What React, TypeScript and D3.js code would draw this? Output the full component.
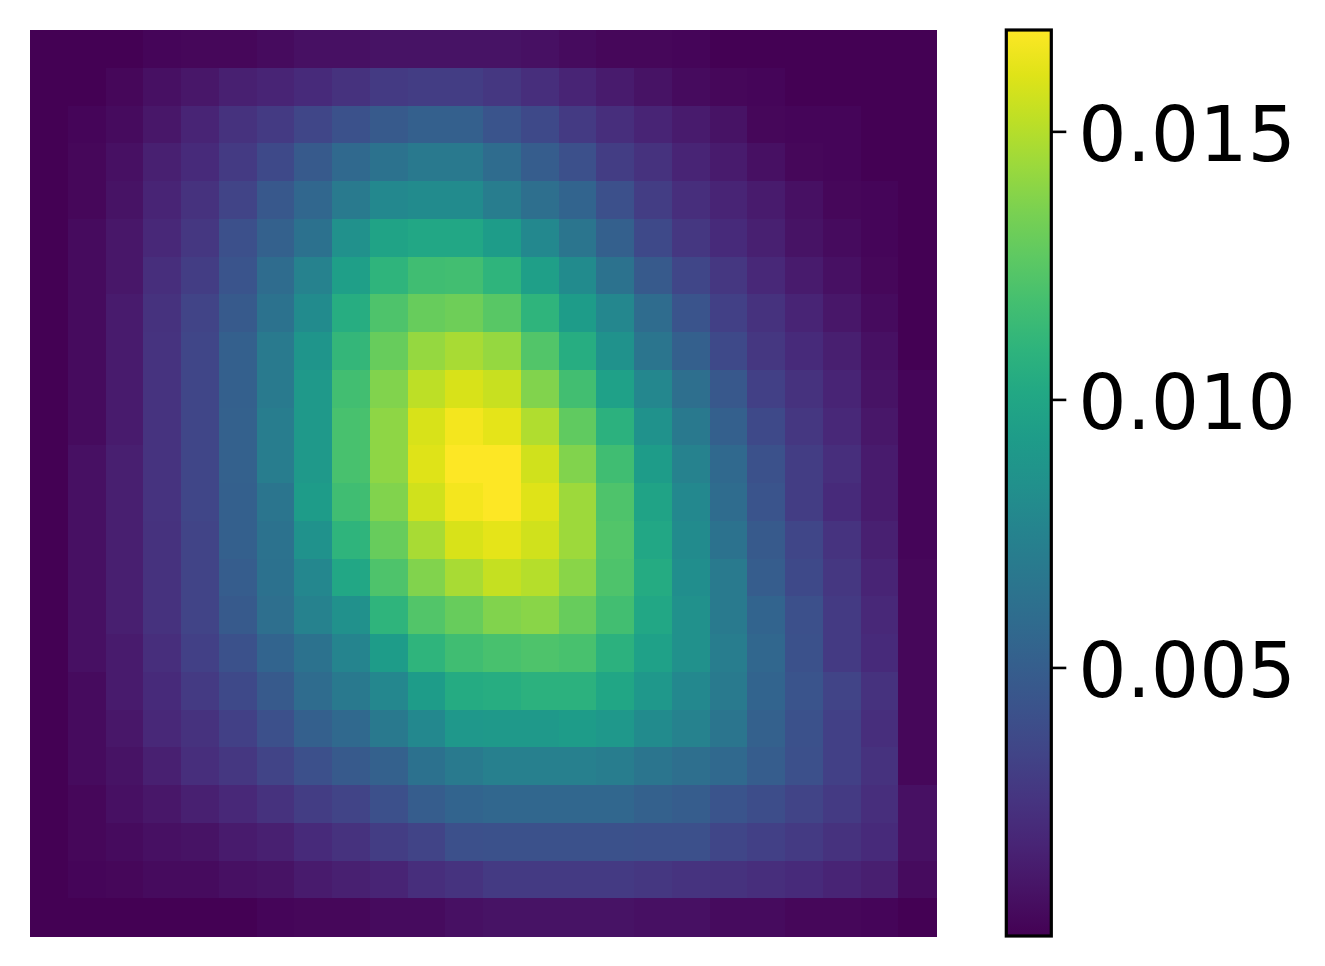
import * as d3 from 'd3'

const WIDTH = 1325
const HEIGHT = 966
const MAP = { left: 30, top: 30, size: 906 }
const BAR = { left: 1006.3, width: 45 }

// density, in units of 1e-4 (row 0 = top)
const DENSITY_E4 = [
  [0, 0, 0, 2, 3, 3, 5, 7, 7, 8, 8, 8, 8, 7, 5, 3, 3, 2, 0, 0, 0, 0, 0, 0],
  [0, 0, 3, 7, 10, 15, 17, 20, 24, 29, 30, 30, 27, 22, 17, 12, 8, 5, 3, 2, 0, 0, 0, 0],
  [0, 2, 5, 10, 17, 24, 29, 35, 42, 47, 51, 51, 44, 37, 29, 22, 17, 12, 8, 3, 2, 2, 0, 0],
  [0, 3, 7, 15, 20, 29, 37, 47, 57, 64, 68, 68, 59, 49, 41, 30, 24, 17, 12, 7, 3, 2, 0, 0],
  [0, 3, 8, 17, 24, 34, 46, 56, 69, 79, 81, 81, 71, 61, 54, 41, 30, 22, 17, 12, 7, 3, 2, 0],
  [0, 5, 10, 19, 27, 41, 52, 63, 85, 98, 101, 101, 93, 79, 66, 51, 37, 27, 20, 15, 8, 5, 2, 0],
  [0, 5, 10, 22, 30, 44, 59, 74, 95, 110, 117, 118, 110, 95, 81, 64, 47, 35, 27, 19, 12, 7, 3, 0],
  [0, 5, 12, 24, 34, 47, 64, 81, 105, 122, 130, 132, 125, 110, 93, 78, 59, 44, 32, 24, 17, 10, 5, 0],
  [0, 5, 12, 25, 35, 51, 69, 88, 112, 130, 142, 147, 142, 123, 105, 86, 66, 51, 37, 27, 20, 14, 7, 0],
  [0, 5, 12, 25, 35, 51, 69, 91, 118, 137, 152, 159, 155, 137, 118, 96, 78, 61, 46, 32, 24, 17, 8, 2],
  [0, 5, 12, 25, 35, 52, 71, 91, 120, 140, 159, 166, 162, 149, 128, 108, 86, 68, 51, 37, 27, 19, 10, 2],
  [0, 7, 14, 25, 35, 52, 71, 91, 120, 140, 161, 169, 169, 157, 137, 117, 93, 74, 57, 42, 30, 22, 12, 2],
  [0, 7, 14, 25, 35, 51, 66, 93, 117, 137, 157, 166, 169, 161, 144, 122, 98, 79, 59, 44, 30, 20, 12, 2],
  [0, 7, 14, 24, 34, 51, 64, 86, 110, 130, 147, 159, 162, 157, 144, 123, 101, 81, 64, 47, 35, 25, 15, 2],
  [0, 7, 14, 24, 34, 49, 63, 78, 101, 122, 137, 147, 154, 150, 139, 122, 103, 83, 69, 49, 37, 27, 17, 3],
  [0, 7, 14, 24, 34, 47, 61, 74, 85, 110, 123, 130, 137, 139, 130, 118, 101, 85, 69, 54, 41, 29, 19, 3],
  [0, 7, 12, 22, 32, 42, 54, 64, 76, 93, 110, 117, 120, 122, 120, 108, 96, 85, 71, 56, 42, 29, 20, 3],
  [0, 5, 12, 20, 29, 37, 47, 59, 68, 78, 93, 103, 105, 108, 108, 100, 90, 79, 69, 54, 44, 34, 24, 3],
  [0, 5, 10, 19, 24, 32, 41, 51, 57, 68, 79, 90, 91, 91, 93, 90, 81, 74, 66, 52, 42, 32, 22, 3],
  [0, 5, 8, 15, 22, 27, 34, 41, 47, 52, 63, 69, 73, 73, 73, 71, 66, 61, 57, 49, 41, 32, 24, 3],
  [0, 3, 7, 10, 15, 19, 24, 30, 34, 41, 49, 54, 56, 56, 56, 56, 52, 49, 44, 39, 34, 29, 22, 7],
  [0, 3, 5, 7, 8, 12, 15, 20, 24, 30, 34, 41, 42, 42, 42, 42, 41, 41, 35, 32, 29, 24, 20, 7],
  [0, 2, 3, 5, 5, 7, 8, 12, 15, 17, 22, 25, 29, 29, 29, 29, 27, 25, 24, 22, 20, 17, 14, 5],
  [0, 0, 0, 0, 0, 0, 2, 3, 3, 5, 5, 7, 8, 8, 8, 8, 7, 7, 5, 5, 3, 3, 2, 0],
]

const COLORBAR_TICKS = [0.005, 0.010, 0.015]

const density = DENSITY_E4.map(row => row.map(v => v / 1e4))

export default function App() {
  const nRows = density.length
  const nCols = density[0].length
  const flat = density.flat()
  const vmin = d3.min(flat) as number
  const vmax = d3.max(flat) as number

  const color = d3.scaleSequential(d3.interpolateViridis).domain([vmin, vmax])

  const x = d3.scaleBand<number>()
    .domain(d3.range(nCols))
    .range([MAP.left, MAP.left + MAP.size])
  const y = d3.scaleBand<number>()
    .domain(d3.range(nRows))
    .range([MAP.top, MAP.top + MAP.size])

  // colorbar value axis
  const barY = d3.scaleLinear()
    .domain([vmin, vmax])
    .range([MAP.top + MAP.size, MAP.top])

  const stops = d3.range(0, 1.0001, 0.05)
  const fmt = d3.format('.3f')
  const fontSize = 76

  return (
    <svg
      width={WIDTH}
      height={HEIGHT}
      style={{ position: 'absolute', left: 0, top: 0, background: '#fff' }}
      fontFamily="'DejaVu Sans', sans-serif"
    >
      <defs>
        <linearGradient id="viridis-bar" x1="0" y1="1" x2="0" y2="0">
          {stops.map(t => (
            <stop key={t} offset={`${t * 100}%`} stopColor={d3.interpolateViridis(t)} />
          ))}
        </linearGradient>
      </defs>

      {/* heatmap cells */}
      <g shapeRendering="crispEdges">
        {density.map((row, r) =>
          row.map((v, c) => (
            <rect
              key={`${r}-${c}`}
              x={x(c)}
              y={y(r)}
              width={x.bandwidth() + 0.5}
              height={y.bandwidth() + 0.5}
              fill={color(v)}
            />
          ))
        )}
      </g>

      {/* colorbar */}
      <rect
        x={BAR.left}
        y={barY(vmax)}
        width={BAR.width}
        height={barY(vmin) - barY(vmax)}
        fill="url(#viridis-bar)"
        stroke="#000"
        strokeWidth={3.2}
      />
      {COLORBAR_TICKS.map(t => (
        <g key={t} transform={`translate(${BAR.left + BAR.width}, ${barY(t)})`}>
          <line x1={0} x2={15} stroke="#000" strokeWidth={2.6} />
          <text x={27} y={fontSize * 0.38} fontSize={fontSize} fill="#000">
            {fmt(t)}
          </text>
        </g>
      ))}
    </svg>
  )
}
